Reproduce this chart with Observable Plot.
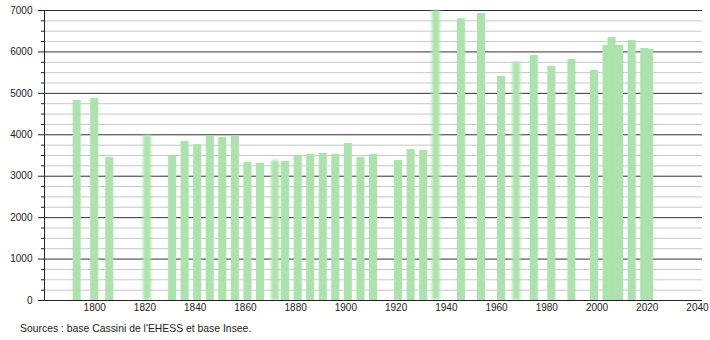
<!DOCTYPE html>
<html><head><meta charset="utf-8">
<script src="https://cdn.jsdelivr.net/npm/d3@7"></script>
<script src="https://cdn.jsdelivr.net/npm/@observablehq/plot@0.6"></script>
<style>
body{margin:0;background:#fff;font-family:"Liberation Sans",Arial,sans-serif;}
#cap{font-size:10.4px;color:#222;padding:4px 0 0 20px;line-height:13px;}
</style></head><body>
<div id="chart"></div>
<div id="cap"></div>
<script>
const years = [1793,1800,1806,1821,1831,1836,1841,1846,1851,1856,1861,1866,1872,1876,1881,1886,1891,1896,1901,1906,1911,1921,1926,1931,1936,1946,1954,1962,1968,1975,1982,1990,1999,2004,2006,2009,2014,2019,2021];
const population = [4830,4876,3452,3983,3490,3838,3766,3966,3934,3966,3331,3307,3379,3355,3492,3524,3548,3524,3790,3452,3524,3379,3645,3621,7000,6800,6928,5407,5745,5914,5648,5817,5552,6155,6348,6155,6276,6083,6059];
const yTicks = [0,1000,2000,3000,4000,5000,6000,7000];
const xTicks = [1800,1820,1840,1860,1880,1900,1920,1940,1960,1980,2000,2020,2040];
const softYears = [1821,1872,1936,1968];
const caption = "Sources : base Cassini de l'EHESS et base Insee.";

const data = years.map((y, i) => ({year: y, pop: population[i]}));
const minorTicks = d3.range(0, 7001, 250).filter(v => v % 1000 !== 0);
const half = 1.6;
const barOpts = {x1: d => d.year - half, x2: d => d.year + half, y: "pop", fill: "#ace3ac"};

const chart = Plot.plot({
  width: 710, height: 318,
  marginTop: 10, marginBottom: 18, marginLeft: 44, marginRight: 8,
  style: {fontSize: "10px", fontFamily: "'Liberation Sans', Arial, sans-serif", color: "#222", background: "#fff"},
  x: {domain: [1780, 2042]},
  y: {domain: [0, 7000]},
  marks: [
    Plot.ruleY(minorTicks, {stroke: "#c8c8c8"}),
    Plot.ruleY(yTicks.filter(v => v > 0), {stroke: "#333"}),
    Plot.rectY(data.filter(d => !softYears.includes(d.year)), barOpts),
    Plot.rectY(data.filter(d => softYears.includes(d.year)), {...barOpts, imageFilter: "blur(1.8px)"}),
    Plot.axisY({ticks: yTicks, tickSize: 6, tickPadding: 6, tickFormat: d => String(d), label: null, stroke: "#222"}),
    Plot.axisY({ticks: minorTicks, tickSize: 3, tickFormat: () => "", label: null, stroke: "#222"}),
    Plot.axisX({ticks: xTicks, tickSize: 0, tickPadding: 3, tickFormat: d => String(d), label: null}),
    Plot.ruleX([1780], {stroke: "#222"}),
    Plot.ruleY([0], {stroke: "#222"})
  ]
});
document.getElementById("chart").appendChild(chart);
document.getElementById("cap").textContent = caption;
</script>
</body></html>
